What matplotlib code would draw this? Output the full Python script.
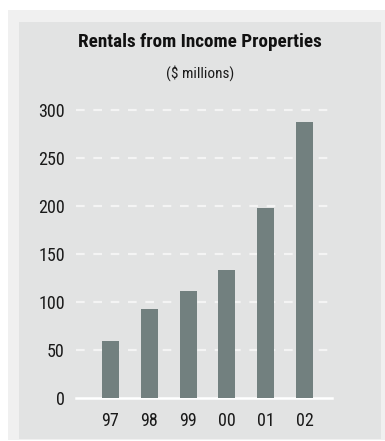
import matplotlib
matplotlib.use("Agg")
import matplotlib.pyplot as plt
from matplotlib.patches import Rectangle

# Rentals from income properties, $ millions
years = ["97", "98", "99", "00", "01", "02"]
rentals = [59, 93, 111, 133, 198, 288]
yticks = [0, 50, 100, 150, 200, 250, 300]

FONT = ["Roboto Condensed", "Archivo Narrow", "Liberation Sans Narrow", "DejaVu Sans"]
plt.rcParams["font.family"] = FONT

W, H = 385, 441
fig = plt.figure(figsize=(W / 100, H / 100), dpi=100)
fig.patch.set_facecolor("white")

def px_rect(x0, y0, x1, y1, color):
    fig.patches.append(Rectangle((x0 / W, 1 - y1 / H), (x1 - x0) / W, (y1 - y0) / H,
                                 transform=fig.transFigure, facecolor=color,
                                 edgecolor="none", zorder=-10))

# backing panels
px_rect(8, 10, 385, 440, "#f0f0f0")
px_rect(19, 22, 381, 439, "#e2e3e3")

# plot area in pixel coordinates
gx0, gx1 = 76, 332
gy_top, gy_bot = 110, 397.7
ax = fig.add_axes([gx0 / W, 1 - gy_bot / H, (gx1 - gx0) / W, (gy_bot - gy_top) / H])
ax.set_facecolor("none")
for s in ax.spines.values():
    s.set_visible(False)

xpos = list(range(len(years)))
ax.set_xlim(-0.889, 5.709)
ax.set_ylim(0, 300)

for v in yticks[1:]:
    ax.axhline(v, color="#f4f4f4", lw=1.6, linestyle=(0, (3.9, 3.9)), clip_on=False, zorder=1)
ax.axhline(0, color="white", lw=1.8, clip_on=False, zorder=1)

ax.bar(xpos, rentals, width=0.44, color="#72807f", zorder=2)

ax.set_yticks(yticks)
ax.set_yticklabels([str(v) for v in yticks], fontsize=13, color="#1a1a1a")
ax.set_xticks(xpos)
ax.set_xticklabels(years, fontsize=13, color="#1a1a1a")
ax.tick_params(axis="y", length=0, pad=8)
ax.tick_params(axis="x", length=0, pad=10)

fig.text(200 / W, 1 - 42 / H, "Rentals from Income Properties", ha="center", va="center",
         fontsize=13.8, fontweight="bold", color="#111111")
fig.text(200 / W, 1 - 73 / H, "($ millions)", ha="center", va="center",
         fontsize=11, color="#1a1a1a")

fig.savefig("out.png", dpi=100, facecolor=fig.get_facecolor())
